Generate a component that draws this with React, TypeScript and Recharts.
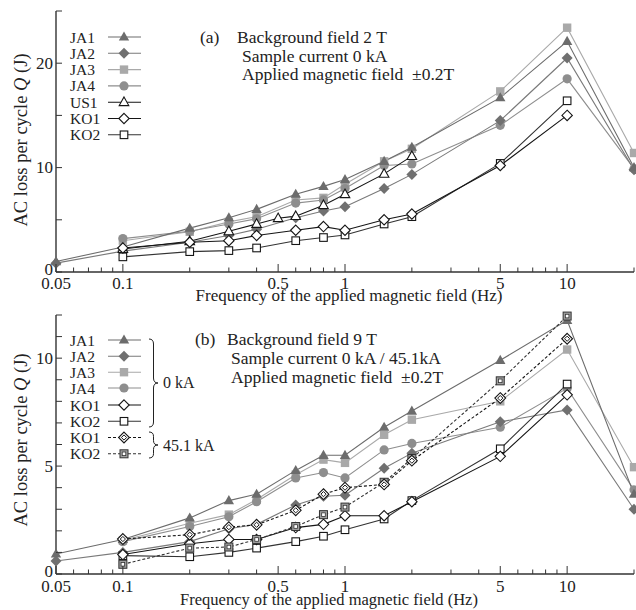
import React from 'react';
import { LineChart, Line, XAxis, YAxis } from 'recharts';

const FONT = '"Liberation Serif", "Times New Roman", serif';
const INK = '#222';

// ---- frequencies (Hz) ----
const F_JA12 = [0.05, 0.1, 0.2, 0.3, 0.4, 0.6, 0.8, 1, 1.5, 2, 5, 10, 20];
const F_JA34 = [0.1, 0.2, 0.3, 0.4, 0.6, 0.8, 1, 1.5, 2, 5, 10, 20];
const F_US1 = [0.1, 0.2, 0.3, 0.4, 0.5, 0.6, 0.8, 1, 1.5, 2];
const F_KO = [0.1, 0.2, 0.3, 0.4, 0.6, 0.8, 1, 1.5, 2, 5, 10];

// ---- (a) background field 2 T, AC loss per cycle (J) ----
const A_JA1 = [1.0, 2.4, 4.2, 5.2, 6.0, 7.45, 8.2, 8.85, 10.6, 11.95, 16.7, 22.1, 10.0];
const A_JA2 = [0.85, 2.0, 2.85, 3.5, 4.1, 5.2, 5.85, 6.25, 8.0, 9.35, 14.5, 20.5, 9.8];
const A_JA3 = [3.0, 3.85, 4.8, 5.3, 6.9, 7.1, 8.4, 10.6, 11.8, 17.3, 23.4, 11.4];
const A_JA4 = [3.2, 3.9, 4.6, 5.1, 6.6, 6.9, 8.0, 10.2, 10.35, 14.05, 18.5, 9.9];
const A_US1 = [2.2, 2.95, 3.9, 4.6, 5.15, 5.35, 6.4, 7.45, 9.4, 11.1];
const A_KO1 = [2.3, 2.85, 3.0, 3.5, 4.0, 4.35, 4.0, 5.0, 5.55, 10.2, 15.0];
const A_KO2 = [1.45, 1.95, 2.05, 2.3, 3.0, 3.3, 3.55, 4.6, 5.3, 10.4, 16.4];

// ---- (b) background field 9 T ----
const B_JA1 = [0.93, 1.6, 2.6, 3.4, 3.7, 4.8, 5.5, 5.5, 6.8, 7.55, 9.9, 11.75, 3.7];
const B_JA2 = [0.6, 1.0, 1.5, 2.1, 2.3, 3.2, 3.6, 3.65, 4.9, 5.6, 7.05, 7.6, 3.0];
const B_JA3 = [1.55, 2.35, 2.75, 3.45, 4.6, 5.3, 5.15, 6.45, 7.15, 8.0, 10.4, 4.95];
const B_JA4 = [1.5, 2.2, 2.65, 3.35, 4.45, 4.7, 4.45, 5.75, 6.05, 6.8, 8.6, 3.9];
const B_KO1 = [0.9, 1.4, 1.6, 1.6, 2.15, 2.3, 2.7, 2.7, 3.35, 5.45, 8.3];
const B_KO2 = [0.85, 0.8, 1.0, 1.2, 1.5, 1.75, 2.05, 2.55, 3.4, 5.8, 8.8];
const B_KO1_45 = [1.62, 1.82, 2.17, 2.28, 2.95, 3.7, 4.0, 4.15, 5.25, 8.15, 10.9];
const B_KO2_45 = [0.45, 1.2, 1.25, 1.6, 2.2, 2.75, 3.1, 4.25, 5.35, 8.95, 11.95];

// ---- axis ticks ----
const X_TICKS = [
  0.05, 0.06, 0.07, 0.08, 0.09, 0.1, 0.2, 0.3, 0.4, 0.5, 0.6, 0.7, 0.8, 0.9,
  1, 2, 3, 4, 5, 6, 7, 8, 9, 10, 20,
];
const X_LABELS = [0.05, 0.1, 0.5, 1, 5, 10];
const Y_TICKS_A = [0, 5, 10, 15, 20, 25];
const Y_LABELS_A = [0, 10, 20];
const Y_TICKS_B = [0, 1, 2, 3, 4, 5, 6, 7, 8, 9, 10, 11, 12];
const Y_LABELS_B = [0, 5, 10];

type Kind = 'tri' | 'dia' | 'sq' | 'circ' | 'triOpen' | 'diaOpen' | 'sqOpen' | 'diaDouble' | 'sqDouble';

function Marker({ cx, cy, kind, color }: { cx: number; cy: number; kind: Kind; color: string }) {
  const s = '#151515';
  switch (kind) {
    case 'tri':
      return <polygon points={`${cx},${cy - 5.5} ${cx + 5.2},${cy + 3.6} ${cx - 5.2},${cy + 3.6}`} fill={color} />;
    case 'triOpen':
      return (
        <polygon
          points={`${cx},${cy - 5.2} ${cx + 4.8},${cy + 3.4} ${cx - 4.8},${cy + 3.4}`}
          fill="#fff"
          stroke={s}
          strokeWidth={1.1}
        />
      );
    case 'dia':
      return <polygon points={`${cx},${cy - 5.5} ${cx + 5.5},${cy} ${cx},${cy + 5.5} ${cx - 5.5},${cy}`} fill={color} />;
    case 'diaOpen':
      return (
        <polygon
          points={`${cx},${cy - 5.2} ${cx + 5.2},${cy} ${cx},${cy + 5.2} ${cx - 5.2},${cy}`}
          fill="#fff"
          stroke={s}
          strokeWidth={1.1}
        />
      );
    case 'diaDouble':
      return (
        <g>
          <polygon
            points={`${cx},${cy - 5.4} ${cx + 5.4},${cy} ${cx},${cy + 5.4} ${cx - 5.4},${cy}`}
            fill="#fff"
            stroke={s}
            strokeWidth={1.1}
          />
          <polygon
            points={`${cx},${cy - 2.6} ${cx + 2.6},${cy} ${cx},${cy + 2.6} ${cx - 2.6},${cy}`}
            fill="#fff"
            stroke={s}
            strokeWidth={1}
          />
        </g>
      );
    case 'sq':
      return <rect x={cx - 4.2} y={cy - 4.2} width={8.4} height={8.4} fill={color} />;
    case 'sqOpen':
      return <rect x={cx - 3.8} y={cy - 3.8} width={7.6} height={7.6} fill="#fff" stroke={s} strokeWidth={1.1} />;
    case 'sqDouble':
      return (
        <g>
          <rect x={cx - 4} y={cy - 4} width={8} height={8} fill="#a0a0a0" stroke="#333" strokeWidth={1} />
          <rect x={cx - 1.8} y={cy - 1.8} width={3.6} height={3.6} fill="#fff" stroke="#333" strokeWidth={0.8} />
        </g>
      );
    case 'circ':
    default:
      return <circle cx={cx} cy={cy} r={4.6} fill={color} />;
  }
}

interface SeriesStyle {
  id: string;
  name: string;
  kind: Kind;
  color: string;
  line: string;
  dash?: string;
}

const ST_JA1: SeriesStyle = { id: 'JA1', name: 'JA1', kind: 'tri', color: '#6c6c6c', line: '#6c6c6c' };
const ST_JA2: SeriesStyle = { id: 'JA2', name: 'JA2', kind: 'dia', color: '#707070', line: '#7a7a7a' };
const ST_JA3: SeriesStyle = { id: 'JA3', name: 'JA3', kind: 'sq', color: '#a9a9a9', line: '#a9a9a9' };
const ST_JA4: SeriesStyle = { id: 'JA4', name: 'JA4', kind: 'circ', color: '#8e8e8e', line: '#8e8e8e' };
const ST_US1: SeriesStyle = { id: 'US1', name: 'US1', kind: 'triOpen', color: '#fff', line: '#151515' };
const ST_KO1: SeriesStyle = { id: 'KO1', name: 'KO1', kind: 'diaOpen', color: '#fff', line: '#151515' };
const ST_KO2: SeriesStyle = { id: 'KO2', name: 'KO2', kind: 'sqOpen', color: '#fff', line: '#333' };
const ST_KO1_45: SeriesStyle = { id: 'KO1b', name: 'KO1', kind: 'diaDouble', color: '#fff', line: '#151515', dash: '3 2' };
const ST_KO2_45: SeriesStyle = { id: 'KO2b', name: 'KO2', kind: 'sqDouble', color: '#a0a0a0', line: '#333', dash: '3 2' };

function pairs(freqs: number[], values: number[]) {
  return freqs.map((f, i) => ({ f, q: values[i] }));
}

const SERIES_A: { style: SeriesStyle; data: { f: number; q: number }[] }[] = [
  { style: ST_JA3, data: pairs(F_JA34, A_JA3) },
  { style: ST_JA4, data: pairs(F_JA34, A_JA4) },
  { style: ST_JA2, data: pairs(F_JA12, A_JA2) },
  { style: ST_JA1, data: pairs(F_JA12, A_JA1) },
  { style: ST_US1, data: pairs(F_US1, A_US1) },
  { style: ST_KO2, data: pairs(F_KO, A_KO2) },
  { style: ST_KO1, data: pairs(F_KO, A_KO1) },
];

const SERIES_B: { style: SeriesStyle; data: { f: number; q: number }[] }[] = [
  { style: ST_JA3, data: pairs(F_JA34, B_JA3) },
  { style: ST_JA4, data: pairs(F_JA34, B_JA4) },
  { style: ST_JA2, data: pairs(F_JA12, B_JA2) },
  { style: ST_JA1, data: pairs(F_JA12, B_JA1) },
  { style: ST_KO2, data: pairs(F_KO, B_KO2) },
  { style: ST_KO1, data: pairs(F_KO, B_KO1) },
  { style: ST_KO2_45, data: pairs(F_KO, B_KO2_45) },
  { style: ST_KO1_45, data: pairs(F_KO, B_KO1_45) },
];

const AXIS = '#333';

// inward tick marks drawn at the axis positions Recharts computes
function BottomTick(props: any) {
  const { x, y, payload, labelDy } = props;
  const v = payload.value as number;
  const major = X_LABELS.includes(v);
  return (
    <g>
      <line x1={x} y1={y} x2={x} y2={y - (major ? 8 : 4.5)} stroke={AXIS} strokeWidth={1} />
      {major && (
        <text x={x} y={y + labelDy} textAnchor="middle" fontFamily={FONT} fontSize={17} fill={INK}>
          {String(v)}
        </text>
      )}
    </g>
  );
}

function TopTick(props: any) {
  const { x, y, payload } = props;
  const v = payload.value as number;
  const major = X_LABELS.includes(v);
  return <line x1={x} y1={y} x2={x} y2={y + (major ? 8 : 4.5)} stroke={AXIS} strokeWidth={1} />;
}

function LeftTick(props: any) {
  const { x, y, payload, labels } = props;
  const v = payload.value as number;
  const major = labels.includes(v);
  return (
    <g>
      <line x1={x} y1={y} x2={x + 6} y2={y} stroke={AXIS} strokeWidth={1} />
      {major && (
        <text x={x - 3} y={v === 0 ? y + 3 : y + 5.5} textAnchor="end" fontFamily={FONT} fontSize={17} fill={INK}>
          {String(v)}
        </text>
      )}
    </g>
  );
}

function RightTick(props: any) {
  const { x, y } = props;
  return <line x1={x} y1={y} x2={x - 6} y2={y} stroke={AXIS} strokeWidth={1} />;
}

function Panel({
  series,
  yMax,
  yTicks,
  yLabels,
  height,
  marginTop,
  xAxisHeight,
  labelDy,
}: {
  series: { style: SeriesStyle; data: { f: number; q: number }[] }[];
  yMax: number;
  yTicks: number[];
  yLabels: number[];
  height: number;
  marginTop: number;
  xAxisHeight: number;
  labelDy: number;
}) {
  return (
    <LineChart width={636} height={height} margin={{ top: marginTop, right: 2, left: 0, bottom: 0 }}>
      <XAxis
        xAxisId="b"
        dataKey="f"
        type="number"
        scale="log"
        domain={[0.05, 20]}
        ticks={X_TICKS}
        interval={0}
        height={xAxisHeight}
        tickSize={0}
        tickMargin={0}
        tickLine={false}
        axisLine={{ stroke: AXIS, strokeWidth: 1.4 }}
        tick={(p: any) => <BottomTick {...p} labelDy={labelDy} />}
      />
      <XAxis
        xAxisId="t"
        orientation="top"
        type="number"
        scale="log"
        domain={[0.05, 20]}
        ticks={X_TICKS}
        interval={0}
        height={0}
        tickSize={0}
        tickMargin={0}
        tickLine={false}
        axisLine={{ stroke: AXIS, strokeWidth: 1.4 }}
        tick={(p: any) => <TopTick {...p} />}
      />
      <YAxis
        yAxisId="l"
        type="number"
        domain={[0, yMax]}
        ticks={yTicks}
        interval={0}
        width={56}
        tickSize={0}
        tickMargin={0}
        tickLine={false}
        axisLine={{ stroke: AXIS, strokeWidth: 1.4 }}
        tick={(p: any) => <LeftTick {...p} labels={yLabels} />}
      />
      <YAxis
        yAxisId="r"
        orientation="right"
        type="number"
        domain={[0, yMax]}
        ticks={yTicks}
        interval={0}
        width={0}
        tickSize={0}
        tickMargin={0}
        tickLine={false}
        axisLine={{ stroke: AXIS, strokeWidth: 1.4 }}
        tick={(p: any) => <RightTick {...p} />}
      />
      {series.map(({ style, data }) => (
        <Line
          key={style.id}
          xAxisId="b"
          yAxisId="l"
          data={data}
          dataKey="q"
          type="linear"
          stroke={style.line}
          strokeWidth={1.1}
          strokeDasharray={style.dash}
          isAnimationActive={false}
          activeDot={false}
          dot={(p: any) => (
            <Marker key={`${style.id}-${p.index}`} cx={p.cx} cy={p.cy} kind={style.kind} color={style.color} />
          )}
        />
      ))}
    </LineChart>
  );
}

function LegendRow({ y, style }: { y: number; style: SeriesStyle }) {
  return (
    <g>
      <text x={70} y={y + 5.5} fontFamily={FONT} fontSize={15.5} fill={INK}>
        {style.name}
      </text>
      <line x1={108} y1={y} x2={141} y2={y} stroke={style.line} strokeWidth={1.1} strokeDasharray={style.dash} />
      <Marker cx={124} cy={y} kind={style.kind} color={style.color} />
    </g>
  );
}

function Brace({ x, y1, y2, w }: { x: number; y1: number; y2: number; w: number }) {
  const m = (y1 + y2) / 2;
  const r = Math.min(5, (y2 - y1) / 6);
  const d = [
    `M${x},${y1}`,
    `Q${x + w / 2},${y1} ${x + w / 2},${y1 + r}`,
    `L${x + w / 2},${m - r}`,
    `Q${x + w / 2},${m} ${x + w},${m}`,
    `Q${x + w / 2},${m} ${x + w / 2},${m + r}`,
    `L${x + w / 2},${y2 - r}`,
    `Q${x + w / 2},${y2} ${x},${y2}`,
  ].join(' ');
  return <path d={d} fill="none" stroke={INK} strokeWidth={1} />;
}

const LEGEND_A = [ST_JA1, ST_JA2, ST_JA3, ST_JA4, ST_US1, ST_KO1, ST_KO2];
const LEGEND_A_Y = [37, 53.3, 69.6, 85.9, 102.2, 118.5, 134.8];
const LEGEND_B = [ST_JA1, ST_JA2, ST_JA3, ST_JA4, ST_KO1, ST_KO2, ST_KO1_45, ST_KO2_45];
const LEGEND_B_Y = [340, 356.3, 372.2, 388, 405, 421.3, 437.5, 453.8];

const X_TITLE = 'Frequency of the applied magnetic field (Hz)';

function YTitle({ cx, cy }: { cx: number; cy: number }) {
  return (
    <text
      x={cx}
      y={cy}
      transform={`rotate(-90 ${cx} ${cy})`}
      textAnchor="middle"
      dominantBaseline="central"
      fontFamily={FONT}
      fontSize={18.5}
      fill={INK}
      style={{ whiteSpace: 'pre' }}
    >
      {'AC loss per cycle '}
      <tspan fontStyle="italic">Q</tspan>
      {' (J)'}
    </text>
  );
}

export default function App() {
  const txt = { fontFamily: FONT, fontSize: 17.5, fill: INK, style: { whiteSpace: 'pre' as const } };
  return (
    <div style={{ position: 'absolute', left: 0, top: 0, width: 636, height: 610, background: '#fff' }}>
      <div style={{ position: 'absolute', left: 0, top: 0 }}>
        <Panel
          series={SERIES_A}
          yMax={25}
          yTicks={Y_TICKS_A}
          yLabels={Y_LABELS_A}
          height={305}
          marginTop={11}
          xAxisHeight={33}
          labelDy={17}
        />
      </div>
      <div style={{ position: 'absolute', left: 0, top: 305 }}>
        <Panel
          series={SERIES_B}
          yMax={12}
          yTicks={Y_TICKS_B}
          yLabels={Y_LABELS_B}
          height={305}
          marginTop={10}
          xAxisHeight={36}
          labelDy={18}
        />
      </div>
      <svg
        width={636}
        height={610}
        style={{ position: 'absolute', left: 0, top: 0, pointerEvents: 'none' }}
      >
        {/* panel (a) */}
        {LEGEND_A.map((s, i) => (
          <LegendRow key={`la-${s.id}`} y={LEGEND_A_Y[i]} style={s} />
        ))}
        <text x={200} y={43} {...txt}>(a)</text>
        <text x={237} y={43} {...txt}>Background field 2 T</text>
        <text x={242} y={61.5} {...txt}>Sample current 0 kA</text>
        <text x={242} y={79.5} {...txt}>{'Applied magnetic field  \u00b10.2T'}</text>
        <text x={349} y={301} textAnchor="middle" fontFamily={FONT} fontSize={17} fill={INK}>
          {X_TITLE}
        </text>
        <YTitle cx={21} cy={140} />

        {/* panel (b) */}
        {LEGEND_B.map((s, i) => (
          <LegendRow key={`lb-${s.id}`} y={LEGEND_B_Y[i]} style={s} />
        ))}
        <Brace x={149} y1={339} y2={427} w={9} />
        <Brace x={149} y1={432} y2={458} w={9} />
        <text x={163} y={388} fontFamily={FONT} fontSize={16} fill={INK}>0 kA</text>
        <text x={163} y={451} fontFamily={FONT} fontSize={16} fill={INK}>45.1 kA</text>
        <text x={195} y={345} {...txt}>(b)</text>
        <text x={227} y={345} {...txt}>Background field 9 T</text>
        <text x={231} y={364} {...txt}>Sample current 0 kA / 45.1kA</text>
        <text x={231} y={382.5} {...txt}>{'Applied magnetic field  \u00b10.2T'}</text>
        <text x={329} y={605} textAnchor="middle" fontFamily={FONT} fontSize={16.5} fill={INK}>
          {X_TITLE}
        </text>
        <YTitle cx={21} cy={440} />
      </svg>
    </div>
  );
}
